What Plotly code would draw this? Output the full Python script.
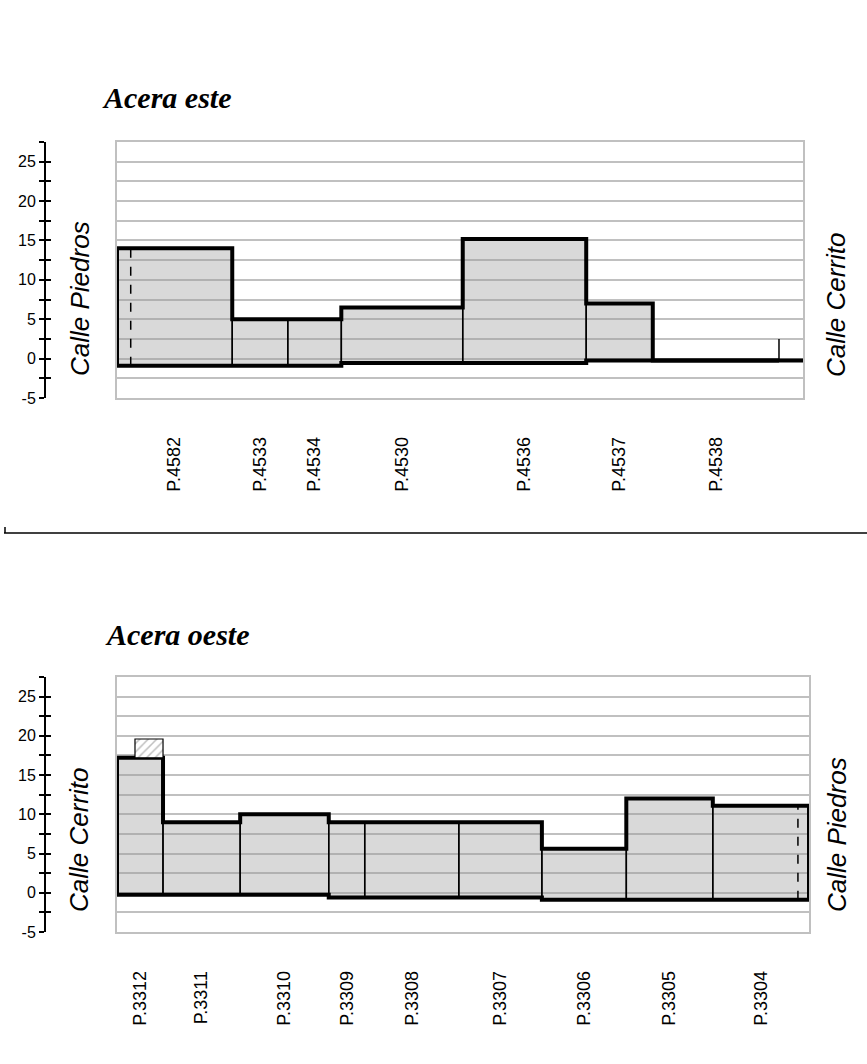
import plotly.graph_objects as go

# ---------------- data ----------------
# Acera este (east side): lot names, lot boundaries (0-100 along the street), heights (m), ground level (m)
east_lots = ["P.4582", "P.4533", "P.4534", "P.4530", "P.4536", "P.4537", "P.4538"]
east_edges = [0, 16.8, 24.9, 32.7, 50.4, 68.4, 78.1, 96.5]
east_heights = [14, 5, 5, 6.5, 15.2, 7, 0]
east_base = [-0.9, -0.9, -0.9, -0.55, -0.55, -0.25, -0.25]
east_street_end = 100
east_dashed_x = 2.0
east_wall_x = 96.5
east_wall_h = 2.5

# Acera oeste (west side)
west_lots = ["P.3312", "P.3311", "P.3310", "P.3309", "P.3308", "P.3307", "P.3306", "P.3305", "P.3304"]
west_edges = [0, 6.65, 17.8, 30.6, 35.8, 49.4, 61.4, 73.6, 86.1, 100]
west_heights = [17.2, 9, 10, 9, 9, 9, 5.6, 12, 11.1]
west_base = [-0.25, -0.25, -0.25, -0.6, -0.6, -0.6, -0.9, -0.9, -0.9]
west_street_end = 100
west_dashed_x = 98.4
west_hatch_x = [2.6, 6.65]
west_hatch_y = [17.2, 19.6]

y_range = [-5, 27.5]
y_labels = [-5, 0, 5, 10, 15, 20, 25]
y_label_text = ["-5", "0", "5", "10", "15", "20", "25"]
y_minor = [-2.5, 2.5, 7.5, 12.5, 17.5, 22.5, 27.5]

W, H = 867, 1064
FILL = "rgba(150,150,150,0.36)"
GRID = "#c0c0c0"


def px_x(p):
    return p / W


def px_y(p):
    return (H - p) / H


fig = go.Figure()


def add_panel(xa, ya, edges, heights, base, street_end, dashed_x):
    xref = "x" if xa == 1 else f"x{xa}"
    yref = "y" if ya == 1 else f"y{ya}"
    # fills
    for i in range(len(heights)):
        if heights[i] <= 0:
            continue
        x0, x1, b, h = edges[i], edges[i + 1], base[i], heights[i]
        fig.add_trace(go.Scatter(x=[x0, x0, x1, x1, x0], y=[b, h, h, b, b], mode="lines",
                                 fill="toself", fillcolor=FILL,
                                 line=dict(color="black", width=1.5),
                                 xaxis=xref, yaxis=yref, hoverinfo="skip"))
    # skyline
    sx, sy = [edges[0]], [base[0]]
    for i in range(len(heights)):
        top = heights[i] if heights[i] > 0 else base[i]
        sx += [edges[i], edges[i + 1]]
        sy += [top, top]
    sx.append(edges[len(heights)])
    sy.append(base[len(heights) - 1])
    fig.add_trace(go.Scatter(x=sx, y=sy, mode="lines", line=dict(color="black", width=4),
                             xaxis=xref, yaxis=yref, hoverinfo="skip"))
    # ground line
    gx, gy = [], []
    for i in range(len(heights)):
        gx += [edges[i], edges[i + 1]]
        gy += [base[i], base[i]]
    gx.append(street_end)
    gy.append(base[-1])
    fig.add_trace(go.Scatter(x=gx, y=gy, mode="lines", line=dict(color="black", width=4),
                             xaxis=xref, yaxis=yref, hoverinfo="skip"))
    # dashed line inside a lot
    for i in range(len(heights)):
        if edges[i] <= dashed_x <= edges[i + 1]:
            fig.add_trace(go.Scatter(x=[dashed_x, dashed_x], y=[base[i], heights[i]], mode="lines",
                                     line=dict(color="black", width=1.5, dash="dash"),
                                     xaxis=xref, yaxis=yref, hoverinfo="skip"))


add_panel(1, 1, east_edges, east_heights, east_base, east_street_end, east_dashed_x)
fig.add_trace(go.Scatter(x=[east_wall_x, east_wall_x], y=[east_base[-1], east_wall_h], mode="lines",
                         line=dict(color="black", width=1.5), xaxis="x", yaxis="y", hoverinfo="skip"))

add_panel(2, 2, west_edges, west_heights, west_base, west_street_end, west_dashed_x)
fig.add_trace(go.Scatter(x=[west_hatch_x[0], west_hatch_x[0], west_hatch_x[1], west_hatch_x[1], west_hatch_x[0]],
                         y=[west_hatch_y[0], west_hatch_y[1], west_hatch_y[1], west_hatch_y[0], west_hatch_y[0]],
                         mode="lines", fill="toself", fillcolor="white",
                         fillpattern=dict(shape="/", fgcolor="#808080", bgcolor="white", size=6, solidity=0.25),
                         line=dict(color="black", width=1.2), xaxis="x2", yaxis="y2", hoverinfo="skip"))

# dummy traces so the decorative axes are drawn
for ya in ["y3", "y4"]:
    fig.add_trace(go.Scatter(x=[None], y=[None], xaxis="x", yaxis=ya, showlegend=False))
for ya in ["y5", "y6"]:
    fig.add_trace(go.Scatter(x=[None], y=[None], xaxis="x2", yaxis=ya, showlegend=False))

TICKFONT = dict(family="Liberation Sans, Arial", size=18, color="black")


def xaxis_cfg(domain, edges, lots):
    centers = [(edges[i] + edges[i + 1]) / 2 for i in range(len(lots))]
    return dict(domain=domain, range=[0, 100], showgrid=False, zeroline=False,
                showline=True, mirror=True, linecolor=GRID, linewidth=1.5,
                tickmode="array", tickvals=centers, ticktext=lots, tickangle=-90,
                ticks="", ticklabelstandoff=30, tickfont=TICKFONT, automargin=False, fixedrange=True)


def grid_y(domain, anchor):
    return dict(domain=domain, anchor=anchor, range=y_range, tick0=0, dtick=2.5,
                showgrid=True, gridcolor=GRID, gridwidth=1.5, showline=True, mirror=True,
                linecolor=GRID, linewidth=1.5, showticklabels=False, ticks="", zeroline=False,
                automargin=False, fixedrange=True)


def label_y(over, inside):
    d = dict(overlaying=over, anchor="free", position=px_x(45), side="left", range=y_range,
             tickmode="array", tickvals=y_labels, ticktext=y_label_text,
             ticks="inside" if inside else "outside",
             ticklen=5, tickwidth=2, tickcolor="black",
             minor=dict(tickmode="array", tickvals=y_minor,
                        ticks="inside" if inside else "outside", ticklen=5, tickwidth=2, tickcolor="black"),
             showgrid=False, zeroline=False, automargin=False, fixedrange=True)
    if inside:
        d.update(showticklabels=False, showline=False)
    else:
        d.update(showticklabels=True, showline=True, linecolor="black", linewidth=2,
                 tickfont=dict(family="Liberation Sans, Arial", size=16, color="black"))
    return d


top_dom = [px_y(398), px_y(142)]
bot_dom = [px_y(932), px_y(677)]

fig.update_layout(
    width=W, height=H, margin=dict(l=0, r=0, t=0, b=0),
    paper_bgcolor="white", plot_bgcolor="white", showlegend=False,
    font=dict(family="Liberation Sans, Arial", color="black"),
    xaxis=dict(anchor="y", **xaxis_cfg([px_x(117), px_x(803)], east_edges, east_lots)),
    yaxis=grid_y(top_dom, "x"),
    yaxis3=label_y("y", False),
    yaxis4=label_y("y", True),
    xaxis2=dict(anchor="y2", **xaxis_cfg([px_x(117), px_x(809)], west_edges, west_lots)),
    yaxis2=grid_y(bot_dom, "x2"),
    yaxis5=label_y("y2", False),
    yaxis6=label_y("y2", True),
)

TITLE_FONT = dict(family="Liberation Serif, Times New Roman", size=30, color="black", style="italic", weight="bold")
STREET_FONT = dict(family="Liberation Sans, Arial", size=26, color="black", style="italic")

annots = [
    dict(text="Acera este", x=px_x(100), y=px_y(98), xanchor="left", yanchor="middle", font=TITLE_FONT),
    dict(text="Acera oeste", x=px_x(103), y=px_y(634), xanchor="left", yanchor="middle", font=TITLE_FONT),
    dict(text="Calle Piedros", x=px_x(80), y=px_y(299), textangle=-90, font=STREET_FONT),
    dict(text="Calle Cerrito", x=px_x(836), y=px_y(305), textangle=-90, font=STREET_FONT),
    dict(text="Calle Cerrito", x=px_x(79), y=px_y(840), textangle=-90, font=STREET_FONT),
    dict(text="Calle Piedros", x=px_x(837), y=px_y(835), textangle=-90, font=STREET_FONT),
]
for a in annots:
    a.update(xref="paper", yref="paper", showarrow=False)
    if "xanchor" not in a:
        a.update(xanchor="center", yanchor="middle")
    fig.add_annotation(**a)

fig.add_shape(type="line", xref="paper", yref="paper", x0=px_x(4), x1=1, y0=px_y(533), y1=px_y(533),
              line=dict(color="black", width=1.5))
fig.add_shape(type="line", xref="paper", yref="paper", x0=px_x(5), x1=px_x(5), y0=px_y(527), y1=px_y(533),
              line=dict(color="black", width=1.5))

fig.write_html("out.html", config={"displayModeBar": False},
               post_script="document.body.style.margin='0';")
